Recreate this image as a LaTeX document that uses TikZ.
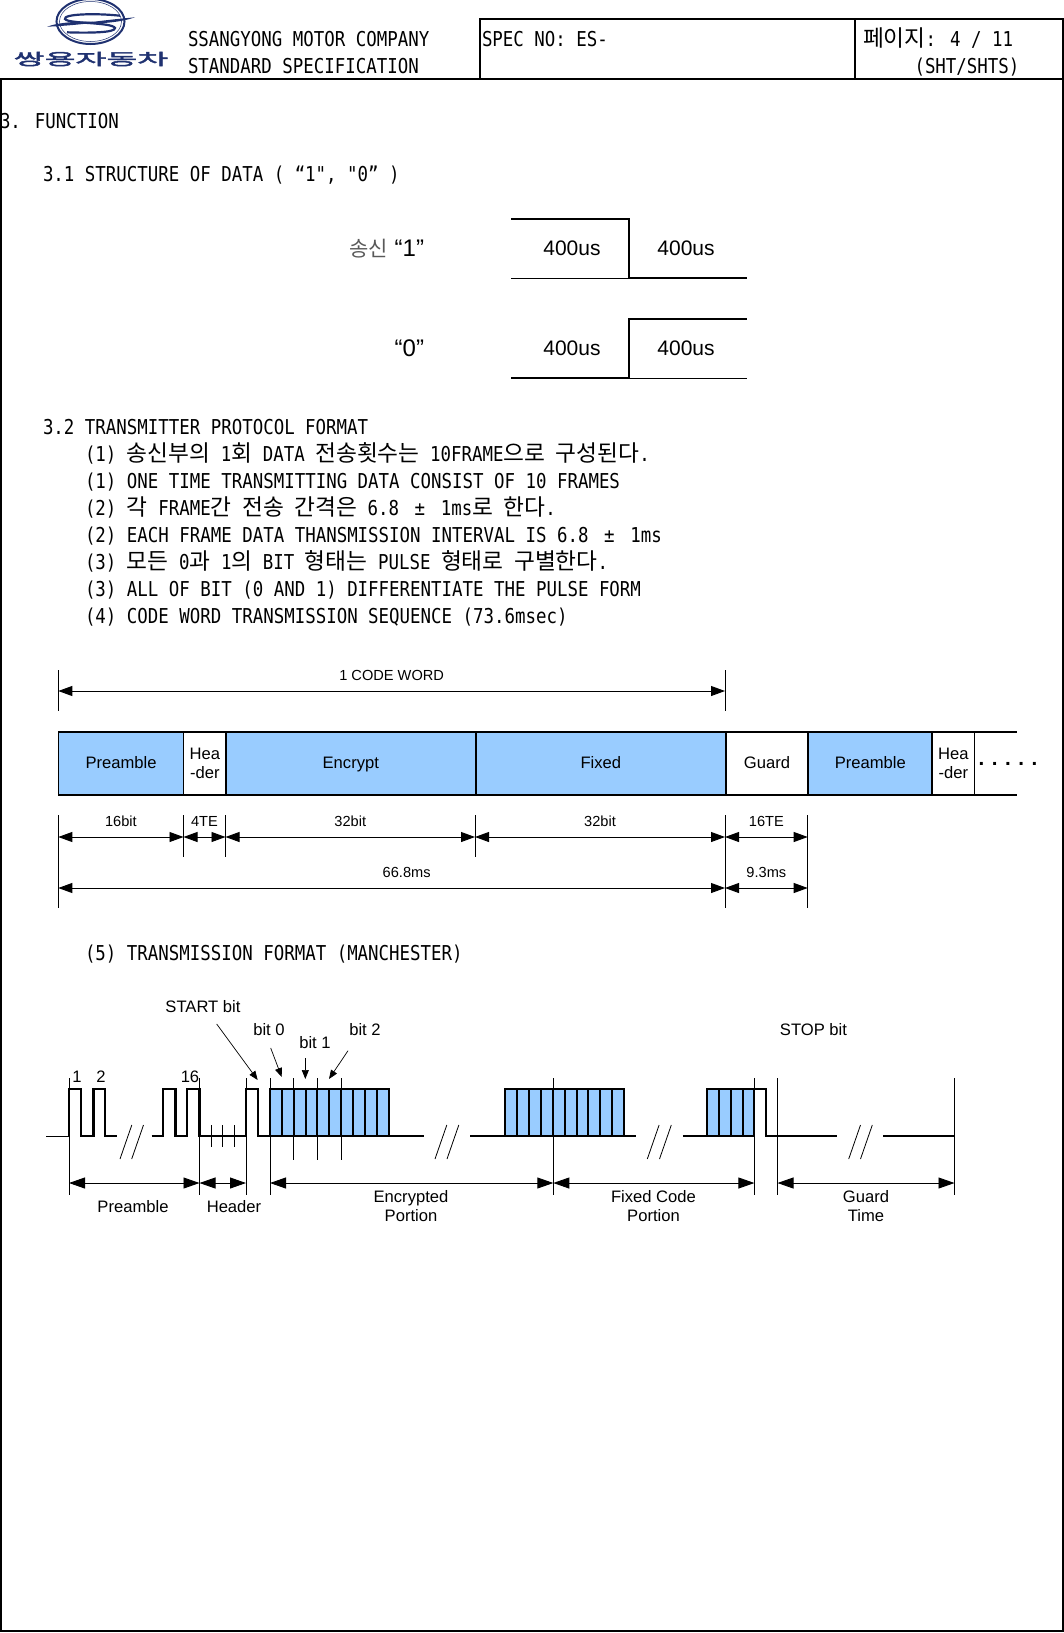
\documentclass[tikz,border=0pt]{standalone}
\usepackage{fontspec}
\setmainfont{Liberation Sans}
\newfontfamily\codefont[FakeStretch=0.85]{DejaVu Sans Mono}
\newfontfamily\krfont{Noto Sans CJK KR}
\newfontfamily\logofont[FakeStretch=2.1,FakeBold=3]{Noto Sans CJK KR}
\usetikzlibrary{positioning}
\usetikzlibrary{arrows.meta}
\definecolor{bitblue}{HTML}{99CCFF}
\definecolor{logoblue}{HTML}{1F3170}
\newcommand{\kr}[1]{{\krfont\fontsize{22.7}{24}\selectfont #1}}
\newcommand{\wide}[1]{\makebox[20.84pt]{#1}}

\begin{document}
\begin{tikzpicture}[
  x=1pt, y=-1pt,
  line cap=butt,
  every node/.style={inner sep=0pt, outer sep=0pt},
  doc/.style={anchor=base west, font=\codefont\fontsize{20.5}{24}\selectfont},
  sans/.style={font=\fontsize{16.6}{19}\selectfont, align=center},
  small/.style={font=\fontsize{14.6}{17}\selectfont, align=center},
  big/.style={font=\fontsize{21}{24}\selectfont},
  quoted/.style={anchor=base east, font=\fontsize{24}{26}\selectfont},
  seg/.style={minimum height=63pt, sans},
  oneline/.style={text height=14pt, text depth=3.5pt},
  frm/.style={line width=1.4pt},
  bitline/.style={line width=1.9pt},
  wave/.style={line width=2.7pt, line join=miter},
  tick/.style={line width=0.8pt},
  dim/.style={line width=0.9pt, {Triangle[length=14pt,width=10pt]}-{Triangle[length=14pt,width=10pt]}},
  dimb/.style={line width=0.9pt, {Triangle[length=16pt,width=11pt]}-{Triangle[length=16pt,width=11pt]}},
  lead/.style={line width=0.7pt, -{Triangle[length=9pt,width=7pt]}},
  cell/.style={fill=bitblue, draw, line width=2.1pt}
]
\useasboundingbox (0,0) rectangle (1064,1633);

% page frame
\draw[frm] (0,79) -- (1064,79);
\draw[frm] (1,79) -- (1,1631) -- (1063,1631) -- (1063,19) -- (480,19) -- (480,79);
\draw[frm] (855,19) -- (855,79);

% logo
\begin{scope}[logoblue]
\draw[line width=2pt] (90.5,21.5) ellipse [x radius=34, y radius=22.5];
\draw[line width=0.5pt] (90.5,21.5) ellipse [x radius=31, y radius=20];
\fill (47,26.7) .. controls (60,22) and (80,21) .. (100,22) .. controls (85,24) and (65,26) .. cycle;
\fill (135,17.3) .. controls (122,22) and (102,24) .. (82,23.5) .. controls (97,21) and (117,19) .. cycle;
\draw[line width=2.2pt] (120,15.7) .. controls (95,13) and (63,14) .. (65,19) .. controls (68,24) and (112,22) .. (115,28) .. controls (116,33) and (85,33) .. (67,32.3);
\node[font=\logofont\fontsize{16}{18}\selectfont, text=logoblue] (logotext) at (91,59) {쌍용자동차};
\end{scope}

% header and section texts
\node[doc] (company) at (188,46) {SSANGYONG MOTOR COMPANY};
\node[doc] (standard) at (188,73) {STANDARD SPECIFICATION};
\node[doc] (specno) at (482,46) {SPEC NO: ES-};
\node[doc] (pageno) at (863,46) {\kr{페이지}: 4 / 11};
\node[doc] (shts) at (914.5,73) {(SHT/SHTS)};
\node[doc] (func) at (0,128) {3. FUNCTION};
\node[doc] (sec31) at (43,181.5) {3.1 STRUCTURE OF DATA ( “1", "0” )};
\node[doc] (sec32) at (43,434) {3.2 TRANSMITTER PROTOCOL FORMAT};
\node[doc] (l1) at (85,461) {(1) \kr{송신부의} 1\kr{회} DATA \kr{전송횟수는} 10FRAME\kr{으로} \kr{구성된다}.};
\node[doc] (l2) at (85,488) {(1) ONE TIME TRANSMITTING DATA CONSIST OF 10 FRAMES};
\node[doc] (l3) at (85,515) {(2) \kr{각} FRAME\kr{간} \kr{전송} \kr{간격은} 6.8 \wide{±} 1ms\kr{로} \kr{한다}.};
\node[doc] (l4) at (85,542) {(2) EACH FRAME DATA THANSMISSION INTERVAL IS 6.8 \wide{±} 1ms};
\node[doc] (l5) at (85,569) {(3) \kr{모든} 0\kr{과} 1\kr{의} BIT \kr{형태는} PULSE \kr{형태로} \kr{구별한다}.};
\node[doc] (l6) at (85,596) {(3) ALL OF BIT (0 AND 1) DIFFERENTIATE THE PULSE FORM};
\node[doc] (l7) at (85,623) {(4) CODE WORD TRANSMISSION SEQUENCE (73.6msec)};
\node[doc] (l8) at (85,960) {(5) TRANSMISSION FORMAT (MANCHESTER)};

% 3.1 bit shapes
\node[quoted] (txone) at (424,256.5) {\textcolor{black!65}{\krfont\fontsize{21}{22}\selectfont 송신} “1”};
\node[quoted] (txzero) at (424,356.5) {“0”};
\node[big] (oneA) at (572,248) {400us};
\node[big] (oneB) at (686,248) {400us};
\node[big] (zeroA) at (572,348) {400us};
\node[big] (zeroB) at (686,348) {400us};
\draw[bitline] (511,219) -- (629,219) -- (629,278) -- (747,278);
\draw[tick] (511,278) -- (629,278);
\draw[bitline] (511,378) -- (629,378) -- (629,319) -- (747,319);
\draw[tick] (629,378) -- (747,378);

% code word bar
\node[seg, oneline, fill=bitblue, minimum width=125.5pt, anchor=west] (pre) at (58.3,763.5) {Preamble};
\node[seg, minimum width=42pt, right=0pt of pre] (hdr) {Hea\\[0.5pt]-der};
\node[seg, oneline, fill=bitblue, minimum width=250pt, right=0pt of hdr] (enc) {Encrypt};
\node[seg, oneline, fill=bitblue, minimum width=250pt, right=0pt of enc] (fix) {Fixed};
\node[seg, oneline, minimum width=82.5pt, right=0pt of fix] (grd) {Guard};
\node[seg, oneline, fill=bitblue, minimum width=124pt, right=0pt of grd] (prb) {Preamble};
\node[seg, minimum width=42pt, right=0pt of prb] (hdb) {Hea\\[0.5pt]-der};
\node[anchor=base, font=\bfseries\fontsize{20.5}{24}\selectfont] (more) at (1008,765) {. . . . .};
\draw[bitline] (pre.north west) -- (1017,732);
\draw[bitline] (pre.south west) -- (1017,795);
\draw[tick] (pre.north west) -- (pre.south west);
\draw[tick] (hdr.north west) -- (hdr.south west);
\draw[tick] (hdb.north east) -- (hdb.south east);
\foreach \seg in {enc,fix,grd,prb,hdb}
  \draw[line width=1.7pt] (\seg.north west) -- (\seg.south west);

% dimensions under the bar
\coordinate (wordL) at (58.3,691);
\coordinate (wordR) at (725,691);
\draw[tick] (58.3,670) -- (58.3,711);
\draw[tick] (725,670) -- (725,711);
\draw[dim] (wordL) -- node[small, above=10.5pt] (wordtxt) {1 CODE WORD} (wordR);
\foreach \nm/\xx/\ylow in {a/58.3/908,b/183.5/857,c/225.5/857,d/475/857,e/725/908,f/807.7/908} {
  \coordinate (\nm) at (\xx,837);
  \coordinate (\nm-t) at (\xx,888);
  \draw[tick] (\xx,815) -- (\xx,\ylow);
}
\draw[dim] (a) -- node[small, above=10.5pt] (n16bit) {16bit} (b);
\draw[dim] (b) -- node[small, above=10.5pt] (n4te) {4TE} (c);
\draw[dim] (c) -- node[small, above=10.5pt] (n32a) {32bit} (d);
\draw[dim] (d) -- node[small, above=10.5pt] (n32b) {32bit} (e);
\draw[dim] (e) -- node[small, above=10.5pt] (n16te) {16TE} (f);
\draw[dim] (a-t) -- node[small, above=10.5pt, xshift=15pt] (n668) {66.8ms} (e-t);
\draw[dim] (e-t) -- node[small, above=10.5pt] (n93) {9.3ms} (f-t);

% Manchester waveform
\foreach \xs/\n in {270/10,505.4/10,707/4}
  \foreach \k in {1,...,\n}
    \draw[cell] ({\xs+(\k-1)*11.86},1089) rectangle ({\xs+\k*11.86},1136);
\draw[tick] (46,1136) -- (69,1136);
\draw[wave] (69,1136) -- (69,1089) -- (81,1089) -- (81,1136) -- (93.3,1136) -- (93.3,1089) -- (105,1089) -- (105,1136) -- (117,1136);
\draw[wave] (151.7,1136) -- (163,1136) -- (163,1089) -- (175.7,1089) -- (175.7,1136) -- (187,1136) -- (187,1089) -- (199.5,1089) -- (199.5,1136) -- (246,1136) -- (246,1089) -- (258,1089) -- (258,1136) -- (270,1136);
\draw[wave] (270,1136) -- (424,1136);
\draw[wave] (470,1136) -- (636,1136);
\draw[wave] (682.8,1136) -- (707,1136);
\draw[wave] (754.4,1089) -- (766,1089) -- (766,1136) -- (837,1136);
\draw[wave] (883,1136) -- (954.5,1136);
\foreach \xx in {120,131.7,435,447,647.3,659.5,848.7,860.5}
  \draw[tick] (\xx,1159) -- ({\xx+11.8},1125);
\foreach \xx in {211.7,222.7,234.3}
  \draw[tick] (\xx,1125) -- (\xx,1147);
\foreach \xx in {69,199.5,246,270,553.3,754.4,777.5,954.5}
  \draw[tick] (\xx,1078) -- (\xx,1195);
\foreach \xx in {293.3,317.3,341.7}
  \draw[tick] (\xx,1078) -- (\xx,1160);
\foreach \nm/\xx in {g/69,h/199.5,i/246,j/270,k/553.3,m/754.4,p/777.5,q/954.5}
  \coordinate (\nm) at (\xx,1183);
\draw[dimb] (g) -- (h);
\draw[dimb] (h) -- (i);
\draw[dimb] (j) -- (k);
\draw[dimb] (k) -- (m);
\draw[dimb] (p) -- (q);

% waveform labels
\node[sans] (startbit) at (203,1007) {START bit};
\node[sans] (bit0) at (269,1030) {bit 0};
\node[sans] (bit1) at (315,1043) {bit 1};
\node[sans] (bit2) at (365,1030) {bit 2};
\node[sans] (stopbit) at (813.5,1030) {STOP bit};
\node[sans] (p1) at (77,1077) {1};
\node[sans] (p2) at (101,1077) {2};
\node[sans] (p16) at (190,1077) {16};
\node[sans] (prelab) at (133,1207) {Preamble};
\node[sans] (hdrlab) at (234,1207) {Header};
\node[sans, anchor=north] (enclab) at (411,1190) {Encrypted\\[0.5pt]Portion};
\node[sans, anchor=north] (fixlab) at (653.5,1190) {Fixed Code\\[0.5pt]Portion};
\node[sans, anchor=north] (grdlab) at (866,1190) {Guard\\[0.5pt]Time};
\coordinate (startend) at (257.7,1080);
\coordinate (bit0end) at (281.7,1077);
\coordinate (bit1end) at (305.3,1079);
\coordinate (bit2end) at (329,1079);
\draw[lead] (216.7,1024) -- (startend);
\draw[lead] (270.7,1048) -- (bit0end);
\draw[lead] (305.3,1058) -- (bit1end);
\draw[lead] (348,1050.7) -- (bit2end);
\end{tikzpicture}
\end{document}
